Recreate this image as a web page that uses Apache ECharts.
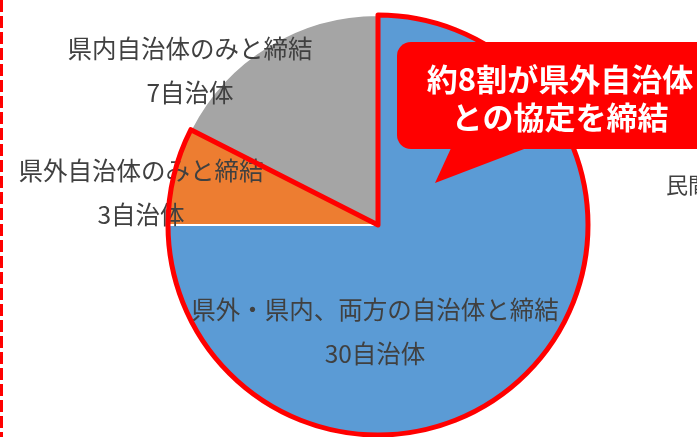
<!DOCTYPE html>
<html>
<head>
<meta charset="utf-8">
<title>協定締結先</title>
<script src="https://cdn.jsdelivr.net/npm/echarts@6/dist/echarts.min.js"></script>
<style>
    html, body { margin: 0; padding: 0; background: #fff; }
    #main { width: 697px; height: 437px; }
</style>
</head>
<body>
<div id="main"></div>
<script>
// 締結先の区分と自治体数
var categories = ['県外・県内、両方の自治体と締結', '県外自治体のみと締結', '県内自治体のみと締結'];
var counts = [30, 3, 7];
var colors = ['#5B9BD5', '#ED7D31', '#A5A5A5'];
// 赤枠で囲む部分(県外を含む)とそれ以外
var outlineGroups = ['県外を含む', '県内のみ'];
var outlineCounts = [33, 7];

(function() {
    var font = '"Noto Sans CJK JP", "Noto Sans", sans-serif';
    var myCharts = echarts.init(document.getElementById('main'));

    var pieData = [];
    categories.forEach(function(name, i) {
        pieData.push({
            name: name,
            value: counts[i],
            itemStyle: { color: colors[i] }
        });
    });

    // ラベルの置き場所(円の外側・内側)
    var labelPos = [
        [375, 332],
        [141, 193],
        [190, 71]
    ];

    var option = {
        animation: false,
        series: [{
            name: '協定締結先',
            type: 'pie',
            center: [378, 225],
            radius: 210,
            startAngle: 90,
            clockwise: true,
            data: pieData,
            itemStyle: {
                borderColor: '#fff',
                borderWidth: 2
            },
            label: {
                show: true,
                formatter: '{b}\n{c}自治体',
                color: '#404040',
                fontFamily: font,
                fontSize: 24.5,
                lineHeight: 44,
                overflow: 'none',
                width: 420
            },
            labelLine: { show: false },
            labelLayout: function(params) {
                var p = labelPos[params.dataIndex];
                return { x: p[0], y: p[1], align: 'center', verticalAlign: 'middle' };
            }
        }, {
            name: '赤枠',
            type: 'pie',
            silent: true,
            center: [378, 225],
            radius: 210,
            startAngle: 90,
            clockwise: true,
            z: 3,
            label: { show: false },
            labelLine: { show: false },
            data: [{
                name: outlineGroups[0],
                value: outlineCounts[0],
                itemStyle: { color: 'rgba(0,0,0,0)', borderColor: '#FF0000', borderWidth: 5 }
            }, {
                name: outlineGroups[1],
                value: outlineCounts[1],
                itemStyle: { color: 'rgba(0,0,0,0)', borderWidth: 0 }
            }]
        }],
        graphic: [{
            // 左端の赤い点線
            type: 'line',
            shape: { x1: 1.5, y1: 0, x2: 1.5, y2: 437 },
            style: { stroke: '#FF0000', lineWidth: 3, lineDash: [12, 4] }
        }, {
            type: 'text',
            left: 666,
            top: 174,
            style: { text: '民間事業者と締結', fill: '#404040', font: '22px ' + font }
        }, {
            // 吹き出し
            type: 'rect',
            z: 100,
            shape: { x: 397, y: 42, width: 330, height: 107, r: 14 },
            style: { fill: '#FF0000' }
        }, {
            type: 'polygon',
            z: 100,
            shape: { points: [[452, 146], [532, 146], [435, 183]] },
            style: { fill: '#FF0000' }
        }, {
            type: 'text',
            z: 101,
            x: 560,
            y: 98,
            style: {
                text: '約8割が県外自治体\nとの協定を締結',
                fill: '#fff',
                font: 'bold 31px ' + font,
                lineHeight: 38,
                align: 'center',
                verticalAlign: 'middle'
            }
        }]
    };

    myCharts.setOption(option);
})();
</script>
</body>
</html>
